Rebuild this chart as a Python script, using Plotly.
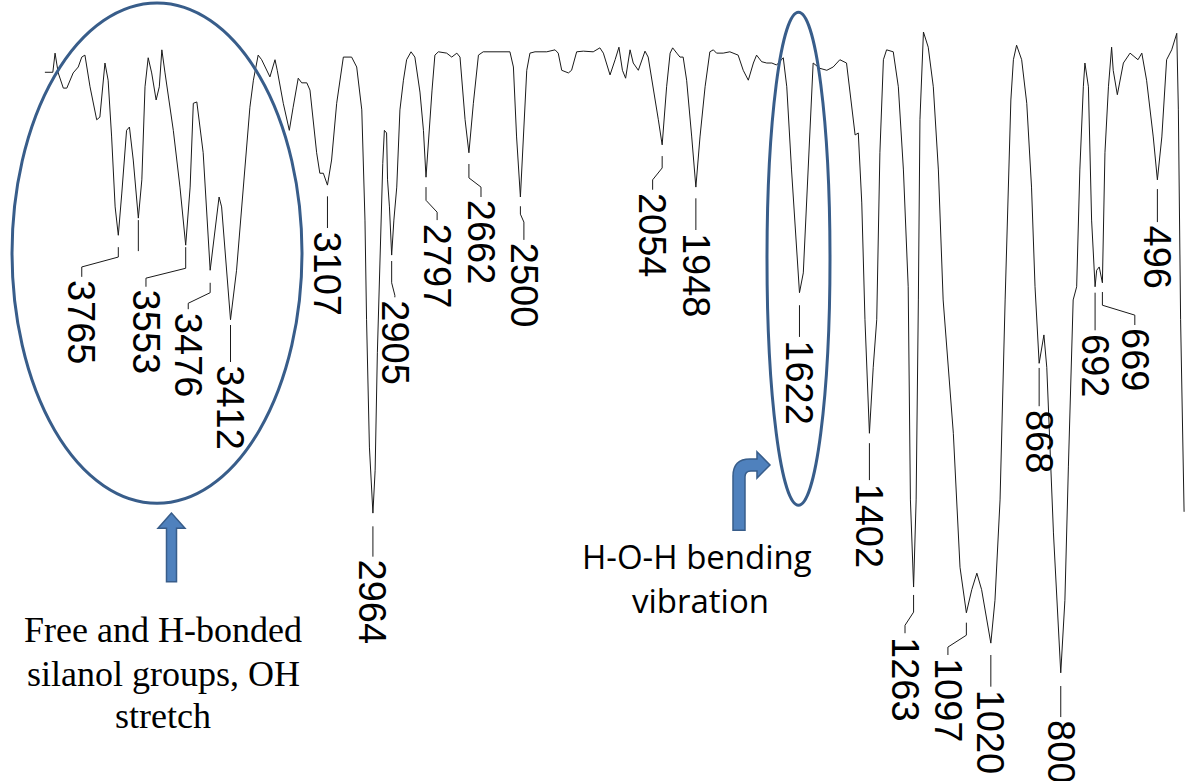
import plotly.graph_objects as go

# ---------------- spectrum (wavenumber cm-1, transmittance %) ----------------
wavenumber = [
    3996, 3971, 3964, 3954, 3938, 3927, 3907, 3891, 3880, 3870, 3854, 3833, 3823, 3807, 3797, 3786,
    3775, 3765, 3754, 3739, 3730, 3718, 3702, 3691, 3681, 3671, 3660, 3646, 3636, 3628, 3618, 3592,
    3571, 3553, 3539, 3529, 3518, 3498, 3476, 3464, 3448, 3440, 3424, 3412, 3393, 3372, 3351, 3340,
    3325, 3314, 3288, 3272, 3265, 3246, 3227, 3215, 3199, 3188, 3172, 3162, 3141, 3131, 3120, 3107,
    3094, 3078, 3057, 3031, 3015, 2999, 2989, 2984, 2975, 2964, 2957, 2950, 2942, 2933, 2928, 2921,
    2918, 2912, 2905, 2898, 2889, 2879, 2868, 2858, 2844, 2832, 2816, 2805, 2797, 2788, 2778, 2769,
    2758, 2732, 2716, 2700, 2690, 2674, 2662, 2648, 2632, 2617, 2533, 2522, 2512, 2500, 2491, 2480,
    2470, 2454, 2417, 2391, 2381, 2370, 2349, 2339, 2323, 2302, 2271, 2250, 2239, 2218, 2202, 2190,
    2179, 2169, 2155, 2145, 2129, 2108, 2098, 2082, 2066, 2054, 2040, 2029, 2021, 2008, 1998, 1988,
    1977, 1961, 1948, 1935, 1919, 1904, 1893, 1883, 1862, 1841, 1815, 1799, 1783, 1767, 1757, 1741,
    1725, 1709, 1694, 1673, 1662, 1647, 1631, 1622, 1610, 1594, 1579, 1558, 1536, 1516, 1495, 1474,
    1458, 1447, 1437, 1426, 1416, 1402, 1390, 1379, 1369, 1358, 1348, 1327, 1311, 1295, 1280, 1273,
    1263, 1255, 1248, 1243, 1232, 1217, 1201, 1185, 1170, 1138, 1117, 1097, 1080, 1064, 1049, 1020,
    1007, 991, 975, 966, 957, 949, 939, 923, 907, 892, 881, 868, 859, 853, 844, 823,
    800, 787, 776, 761, 750, 740, 729, 724, 713, 703, 692, 687, 679, 669, 661, 650,
    640, 635, 622, 603, 582, 557, 545, 530, 509, 496, 482, 467, 451, 435, 430, 423,
    412,
]
transmittance = [
    93.6, 93.6, 96.5, 93.5, 91.2, 91.2, 93.5, 94.4, 95.9, 96.2, 91.4, 86.4, 86.8, 95.0, 92.4, 83.8,
    73.2, 68.9, 75.3, 84.8, 85.3, 80.3, 71.5, 77.3, 91.4, 95.8, 93.5, 89.4, 91.4, 97.0, 93.5, 84.8,
    76.2, 67.4, 76.2, 88.9, 89.1, 81.4, 63.6, 68.6, 74.7, 73.2, 63.6, 56.1, 63.6, 76.2, 88.3, 92.4,
    96.2, 95.5, 92.9, 95.5, 93.9, 88.9, 84.8, 88.3, 92.7, 92.0, 92.0, 90.9, 81.4, 78.3, 78.3, 76.5,
    80.3, 88.9, 95.9, 95.9, 94.4, 87.9, 71.2, 56.1, 36.8, 26.8, 33.3, 51.1, 66.2, 79.8, 84.8, 84.4,
    77.3, 73.2, 65.9, 71.2, 76.2, 87.9, 92.4, 95.5, 96.7, 95.9, 90.6, 84.8, 77.7, 84.8, 90.9, 96.2,
    96.7, 96.5, 95.9, 96.5, 95.9, 86.4, 81.4, 88.9, 96.2, 96.7, 96.7, 94.4, 83.8, 74.7, 83.8, 93.9,
    96.5, 96.7, 96.7, 97.0, 96.5, 93.9, 93.5, 93.9, 96.7, 96.8, 96.7, 97.3, 96.5, 93.2, 95.5, 97.4,
    93.9, 92.7, 97.0, 95.0, 93.9, 96.8, 95.9, 91.4, 86.4, 82.6, 91.4, 96.5, 97.3, 96.5, 95.9, 95.9,
    92.4, 83.8, 76.2, 83.8, 91.4, 96.7, 97.0, 96.5, 96.5, 96.7, 96.2, 93.9, 92.4, 95.0, 96.2, 95.2,
    95.0, 95.0, 94.7, 95.8, 91.4, 78.8, 66.2, 60.2, 63.2, 78.8, 95.0, 94.2, 93.9, 94.4, 95.5, 95.0,
    88.3, 84.1, 84.4, 73.8, 56.1, 38.9, 48.9, 56.1, 81.4, 95.5, 97.0, 96.7, 91.4, 78.8, 61.1, 28.8,
    15.6, 28.8, 59.1, 86.4, 99.7, 97.4, 91.4, 78.8, 59.1, 38.9, 18.6, 11.7, 15.2, 17.7, 15.2, 7.1,
    13.6, 28.8, 59.1, 75.8, 89.4, 95.5, 97.7, 95.5, 88.9, 76.2, 61.1, 49.5, 52.3, 53.8, 48.9, 23.8,
    2.6, 13.6, 33.8, 59.1, 61.1, 78.8, 91.4, 95.0, 91.4, 71.2, 61.1, 63.6, 64.1, 61.7, 81.4, 91.4,
    97.4, 93.9, 90.2, 95.0, 96.5, 95.5, 96.5, 92.4, 83.8, 77.3, 83.8, 95.5, 97.0, 99.5, 87.9, 56.1,
    27.0,
]

# ---------------- peak labels ----------------
peak_labels = ["3765", "3553", "3476", "3412", "3107", "2964", "2905", "2797", "2662", "2500", "2054",
               "1948", "1622", "1402", "1263", "1097", "1020", "868", "800", "692", "669", "496"]
peak_wn = [3765, 3553, 3476, 3412, 3107, 2964, 2905, 2797, 2662, 2500, 2054,
           1948, 1622, 1402, 1263, 1097, 1020, 868, 800, 692, 669, 496]
label_wn = [3880, 3678, 3545, 3412, 3107, 2964, 2895, 2762, 2624, 2489, 2084,
            1948, 1622, 1402, 1290, 1155, 1020, 868, 800, 692, 567, 496]
lead_T0 = [67.1, 67.1, 61.7, 55.3, 74.8, 24.8, 65.0, 76.2, 79.7, 73.3, 80.9,
           74.5, 58.3, 37.4, 14.4, 10.2, 5.3, 48.8, 0.6, 60.2, 60.3, 75.9]
lead_T1 = [65.6, 63.9, 60.2, 55.3, 74.8, 24.8, 61.7, 74.2, 77.6, 72.1, 79.1,
           74.5, 58.3, 37.4, 11.8, 8.3, 5.3, 48.8, 0.6, 60.2, 58.3, 75.9]
lead_T2 = [64.1, 62.4, 58.6, 55.3, 74.8, 24.8, 59.8, 72.4, 76.2, 70.9, 77.3,
           74.5, 58.3, 37.4, 9.8, 6.5, 5.3, 48.8, 0.6, 60.2, 56.8, 75.9]
lead_T3 = [62.6, 61.1, 57.7, 49.7, 70.0, 20.2, 59.5, 71.2, 74.7, 68.2, 75.8,
           69.7, 53.5, 31.8, 8.6, 5.3, 0.5, 43.0, -4.1, 54.5, 55.3, 70.9]

# unlabeled marker tick
tick_wn = [3702]
tick_T_top = [71.2]
tick_T_bottom = [66.5]

# ---------------- figure ----------------
fig = go.Figure()
fig.add_trace(go.Scatter(x=wavenumber, y=transmittance, mode="lines",
                         line=dict(color="#1a1a1a", width=1), hoverinfo="skip"))

lx, ly = [], []
for pw, lw, t0, t1, t2, t3 in zip(peak_wn, label_wn, lead_T0, lead_T1, lead_T2, lead_T3):
    lx += [pw, pw, lw, lw, None]
    ly += [t0, t1, t2, t3, None]
for tw, ta, tb in zip(tick_wn, tick_T_top, tick_T_bottom):
    lx += [tw, tw, None]
    ly += [ta, tb, None]
fig.add_trace(go.Scatter(x=lx, y=ly, mode="lines", line=dict(color="#1a1a1a", width=1),
                         hoverinfo="skip"))

annotations = []
for txt, lw, t3 in zip(peak_labels, label_wn, lead_T3):
    annotations.append(dict(x=lw, y=t3 - 0.2, xref="x", yref="y", text=txt, showarrow=False,
                            textangle=90, xanchor="center", yanchor="top",
                            font=dict(family="Liberation Sans, Arial, sans-serif", size=38,
                                      color="#000000")))

# descriptive notes
left_note = ["Free and H-bonded", "silanol groups, OH", "stretch"]
left_note_T = [9.1, 2.4, -3.9]
for line, t in zip(left_note, left_note_T):
    annotations.append(dict(x=3624, y=t, xref="x", yref="y", text=line, showarrow=False,
                            xanchor="center", yanchor="middle",
                            font=dict(family="Liberation Serif, Times New Roman, serif", size=36,
                                      color="#000000")))
right_note = ["H-O-H bending", "vibration"]
right_note_T = [20.2, 13.6]
right_note_wn = [1944, 1932]
for line, t, w in zip(right_note, right_note_T, right_note_wn):
    annotations.append(dict(x=w, y=t, xref="x", yref="y", text=line, showarrow=False,
                            xanchor="center", yanchor="middle",
                            font=dict(family="Open Sans, Lato, sans-serif", size=33,
                                      color="#000000")))

blue_line = "#385D8A"
blue_fill = "#4F81BD"
shapes = [
    dict(type="circle", xref="x", yref="y", x0=4099.4, x1=3187.1, y0=28.3, y1=104.1,
         line=dict(color=blue_line, width=3)),
    dict(type="circle", xref="x", yref="y", x0=1724.2, x1=1526.0, y0=28.0, y1=102.7,
         line=dict(color=blue_line, width=3)),
    dict(type="path", xref="x", yref="y",
         path="M 3597.7 26.8 L 3640.1 24.5 L 3613.4 24.5 L 3613.4 16.4 L 3581.9 16.4 "
              "L 3581.9 24.5 L 3555.2 24.5 Z",
         fillcolor=blue_fill, line=dict(color=blue_line, width=1.5)),
    dict(type="path", xref="x", yref="y",
         path="M 1831.2 24.2 L 1831.2 32.4 Q 1831.2 35.0 1777.7 35.0 L 1755.7 35.0 "
              "L 1755.7 36.1 L 1714.8 34.1 L 1755.7 32.1 L 1755.7 33.2 L 1774.6 33.2 "
              "Q 1793.4 33.2 1793.4 32.3 L 1793.4 24.2 Z",
         fillcolor=blue_fill, line=dict(color=blue_line, width=1.5)),
]

fig.update_layout(
    width=1186, height=781,
    margin=dict(l=0, r=0, t=0, b=0),
    paper_bgcolor="white", plot_bgcolor="white",
    showlegend=False,
    hovermode=False,
    xaxis=dict(range=[4137.2, 406.0], visible=False, showgrid=False, zeroline=False),
    yaxis=dict(range=[-13.79, 104.55], visible=False, showgrid=False, zeroline=False),
    annotations=annotations,
    shapes=shapes,
)

# remove the default page margin so the figure fills the window exactly
fig.write_html("out.html",
               config={"displayModeBar": False, "staticPlot": True},
               post_script="document.body.style.margin='0';document.body.style.overflow='hidden';")
